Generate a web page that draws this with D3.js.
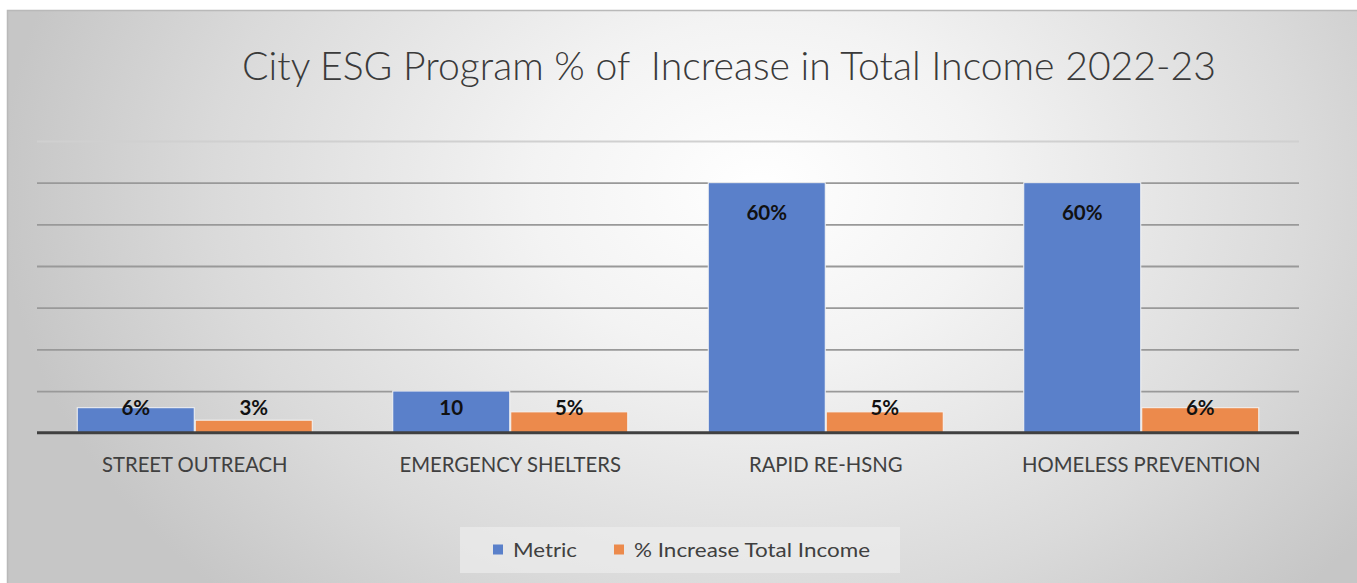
<!DOCTYPE html>
<html>
<head>
<meta charset="utf-8">
<script src="https://cdn.jsdelivr.net/npm/d3@7"></script>
<style>
  html, body { margin: 0; padding: 0; background: #ffffff; }
  svg { display: block; }
</style>
</head>
<body>
<svg id="chart" width="1357" height="583"></svg>
<script>
// Chart data
const categories = ["STREET OUTREACH", "EMERGENCY SHELTERS", "RAPID RE-HSNG", "HOMELESS PREVENTION"];
const seriesNames = ["Metric", "% Increase Total Income"];
const metricValues = [6, 10, 60, 60];
const incomeValues = [3, 5, 5, 6];
const metricLabels = ["6%", "10", "60%", "60%"];
const incomeLabels = ["3%", "5%", "5%", "6%"];
const yTicks = [0, 10, 20, 30, 40, 50, 60, 70];
const titleText = "City ESG Program % of  Increase in Total Income 2022-23";

const colors = ["#5a80ca", "#ec8a4c"];
const font = "Lato, 'Open Sans', 'DejaVu Sans', sans-serif";

const svg = d3.select("#chart");
const W = 1357, H = 583;

// Shrink or grow a text node's font size so it spans the given width
function fitWidth(node, width) {
  const fs = parseFloat(node.getAttribute("font-size"));
  const len = node.getComputedTextLength();
  if (len > 0) node.setAttribute("font-size", (fs * width / len).toFixed(2));
}

// Background: soft radial gray gradient
const defs = svg.append("defs");
const grad = defs.append("radialGradient")
  .attr("id", "bg")
  .attr("gradientUnits", "userSpaceOnUse")
  .attr("cx", 760).attr("cy", 190).attr("r", 760)
  .attr("gradientTransform", "translate(760,190) scale(1,0.75) translate(-760,-190)");
grad.append("stop").attr("offset", "0").attr("stop-color", "#ffffff");
grad.append("stop").attr("offset", "0.3").attr("stop-color", "#f3f3f3");
grad.append("stop").attr("offset", "0.72").attr("stop-color", "#dadada");
grad.append("stop").attr("offset", "1").attr("stop-color", "#c6c6c6");

svg.append("rect")
  .attr("x", 7).attr("y", 10).attr("width", W - 7).attr("height", H - 10)
  .attr("fill", "url(#bg)");
svg.append("path")
  .attr("d", `M7.5,${H} V10.5 H${W}`)
  .attr("fill", "none").attr("stroke", "#b9b9b9").attr("stroke-width", 1.5);

// Scales
const plot = { left: 37, right: 1299, top: 141, bottom: 432.7 };
const x0 = d3.scaleBand().domain(categories).range([plot.left, plot.right])
  .paddingInner(0.252).paddingOuter(0.126);
const x1 = d3.scaleBand().domain(seriesNames).range([0, x0.bandwidth()]).padding(0);
const y = d3.scaleLinear().domain([0, 70]).range([plot.bottom, plot.top]);

// Gridlines
const gridAxis = d3.axisLeft(y).tickValues(yTicks.slice(1))
  .tickSize(-(plot.right - plot.left)).tickFormat("");
const grid = svg.append("g")
  .attr("transform", `translate(${plot.left},0)`)
  .call(gridAxis);
grid.select(".domain").remove();
grid.selectAll(".tick line")
  .attr("stroke", d => d === 70 ? "#d0d0d0" : "#999999")
  .attr("stroke-width", 1.8);

// Bars
const rows = categories.map((c, i) => ({
  cat: c,
  vals: [
    { s: seriesNames[0], v: metricValues[i], label: metricLabels[i], k: 0 },
    { s: seriesNames[1], v: incomeValues[i], label: incomeLabels[i], k: 1 }
  ]
}));

const groups = svg.append("g").selectAll("g")
  .data(rows).join("g")
  .attr("transform", d => `translate(${x0(d.cat)},0)`);

groups.selectAll("rect")
  .data(d => d.vals).join("rect")
  .attr("x", d => x1(d.s) + 0.5)
  .attr("width", x1.bandwidth() - 1)
  .attr("y", d => y(d.v))
  .attr("height", d => y(0) - y(d.v))
  .attr("fill", d => colors[d.k])
  .attr("stroke", "#f4f4f4")
  .attr("stroke-width", 1);

// Value labels: inside the top of tall bars, just above the axis band for short ones
groups.selectAll("text")
  .data(d => d.vals).join("text")
  .attr("x", d => x1(d.s) + x1.bandwidth() / 2)
  .attr("y", d => Math.min(y(d.v) + 30, y(0) - 25) + 7)
  .attr("text-anchor", "middle")
  .attr("font-family", font)
  .attr("font-weight", 700)
  .attr("font-size", 20.5)
  .attr("fill", "#111111")
  .text(d => d.label);

// Baseline axis with category labels
const xAxis = svg.append("g")
  .attr("transform", `translate(0,${plot.bottom})`)
  .call(d3.axisBottom(x0).tickSize(0).tickPadding(0));
xAxis.select(".domain")
  .attr("d", `M${plot.left},0H${plot.right}`)
  .attr("stroke", "#404040").attr("stroke-width", 3);
xAxis.selectAll(".tick text")
  .attr("y", 39.5)
  .attr("dy", 0)
  .attr("font-family", font)
  .attr("font-size", 20.3)
  .attr("fill", "#404040");

// Title
const title = svg.append("text")
  .attr("x", 729).attr("y", 80)
  .attr("text-anchor", "middle")
  .attr("font-family", font)
  .attr("font-weight", 300)
  .attr("font-size", 37)
  .attr("fill", "#3a3a3a")
  .style("white-space", "pre")
  .text(titleText);
fitWidth(title.node(), 974);

// Legend
const legend = svg.append("g");
legend.append("rect")
  .attr("x", 460).attr("y", 527).attr("width", 440).attr("height", 46)
  .attr("fill", "#ececec").attr("opacity", 0.7);
const legendX = [493, 614];
const legendTextWidth = [64, 236];
const legendItems = legend.selectAll("g.item")
  .data(seriesNames).join("g")
  .attr("class", "item")
  .attr("transform", (d, i) => `translate(${legendX[i]},0)`);
legendItems.append("rect")
  .attr("x", 0).attr("y", 544.5).attr("width", 10).attr("height", 10)
  .attr("fill", (d, i) => colors[i]);
legendItems.append("text")
  .attr("x", 20).attr("y", 557)
  .attr("font-family", font)
  .attr("font-size", 20)
  .attr("fill", "#404040")
  .attr("textLength", (d, i) => legendTextWidth[i])
  .attr("lengthAdjust", "spacingAndGlyphs")
  .text(d => d);
</script>
</body>
</html>
